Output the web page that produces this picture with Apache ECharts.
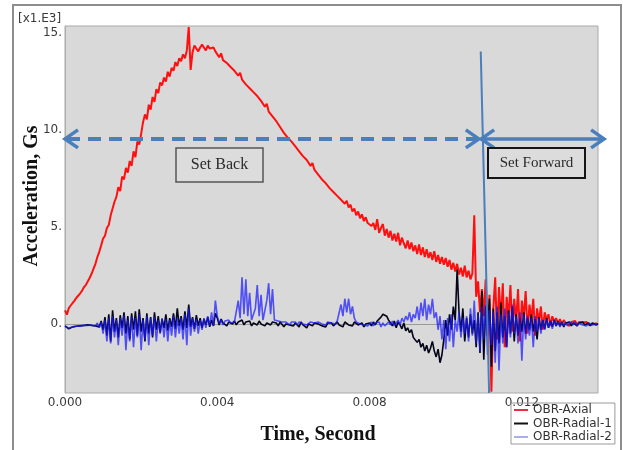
<!DOCTYPE html>
<html>
<head>
<meta charset="utf-8">
<script src="https://cdn.jsdelivr.net/npm/echarts@6/dist/echarts.min.js"></script>
<style>
  html, body { margin: 0; padding: 0; background: #fff; }
  #chart { width: 623px; height: 450px; }
</style>
</head>
<body>
<div id="chart"></div>
<script>
// sampling interval of the recorder traces, seconds
const sampleStep = 0.00005;

// acceleration in thousands of Gs, one row per millisecond
const axial = [
  0.70,0.48,0.82,0.95,1.08,1.20,1.35,1.45,1.58,1.72,1.90,2.02,2.20,2.38,2.60,2.85,3.10,3.45,3.72,4.05,
  4.40,4.55,4.95,5.10,5.60,5.95,6.30,6.55,7.05,6.85,7.60,7.45,8.05,7.80,8.40,8.15,8.90,8.60,9.40,9.25,
  9.80,10.40,10.80,10.55,11.30,11.05,11.70,11.45,12.10,11.90,12.45,12.30,12.70,12.50,13.00,12.75,13.20,13.05,13.50,13.30,
  13.70,13.55,13.90,13.70,14.10,15.30,13.10,14.00,14.35,14.20,14.05,14.25,14.40,14.30,14.10,14.35,14.20,14.15,14.25,14.05,
  14.00,13.75,13.95,13.60,13.70,13.45,13.50,13.25,13.35,13.05,13.10,12.80,12.95,12.60,12.70,12.35,12.45,12.15,12.20,11.95,
  12.05,11.75,11.80,11.50,11.55,11.20,11.35,10.95,11.05,10.70,10.80,10.45,10.55,10.15,10.25,9.85,9.95,9.60,9.65,9.40,
  9.45,9.15,9.20,8.90,8.95,8.65,8.75,8.45,8.50,8.15,8.30,7.95,8.00,7.70,7.80,7.45,7.55,7.25,7.30,7.00,
  7.10,6.80,6.90,6.60,6.70,6.40,6.50,6.20,6.35,6.00,6.15,5.80,5.95,5.60,5.80,5.45,5.65,5.30,5.50,5.20,
  5.30,5.05,5.20,4.85,5.40,4.70,4.95,5.15,4.55,4.90,4.45,4.80,4.30,4.65,4.25,4.70,4.05,4.45,4.15,3.90,
  4.30,3.85,4.20,3.75,4.05,3.60,4.10,3.55,3.95,3.45,3.85,3.40,3.70,3.30,3.75,3.20,3.55,3.10,3.45,3.05,
  3.40,2.95,3.30,2.80,3.15,2.70,3.10,2.55,2.90,2.45,3.00,2.40,2.75,2.30,2.60,5.60,1.40,2.20,0.60,1.80,
  0.40,2.30,-0.60,1.50,-3.50,0.80,2.40,-0.80,1.90,0.20,2.10,-1.20,1.40,0.30,2.00,-0.40,1.30,0.10,1.80,-0.90,
  1.20,0.30,1.70,-0.50,1.00,0.20,1.30,-0.60,0.80,0.10,0.90,-0.30,0.60,0.20,0.50,-0.10,0.40,0.10,0.30,0.00,
  0.25,-0.05,0.20,0.05,0.15,-0.10,0.10,0.05,0.15,-0.05,0.10,0.00,0.08,0.02,0.10,-0.05,0.05,0.00,0.05,0.02,
  0.00
];

const radial1 = [
  -0.10,-0.20,-0.25,-0.20,-0.15,-0.18,-0.12,-0.15,-0.10,-0.14,-0.08,-0.12,-0.05,-0.10,-0.08,-0.02,-0.10,0.00,-0.15,0.15,
  -0.30,0.35,-0.60,0.50,-0.90,0.70,-0.40,0.30,-0.70,0.45,-0.20,0.60,-0.50,0.40,-0.80,0.55,-0.30,0.65,-0.60,0.75,
  -0.40,0.30,-0.90,0.55,-0.50,0.35,-0.70,0.60,-0.30,0.40,-0.45,0.25,-0.20,0.50,-0.35,0.30,-0.15,0.55,-0.25,0.80,
  -0.10,0.40,-0.30,0.65,-0.20,1.00,-0.15,0.35,-0.25,0.45,-0.10,0.30,-0.20,0.25,-0.05,0.35,-0.15,0.20,-0.10,0.55,
  0.30,-0.05,0.25,0.05,0.15,-0.10,0.10,0.20,0.00,0.15,-0.05,0.10,0.05,0.20,-0.05,0.10,0.00,0.15,-0.10,0.05,
  0.10,-0.05,0.15,0.00,0.10,-0.10,0.05,0.15,-0.05,0.10,0.00,0.05,-0.10,0.10,0.05,-0.15,0.00,0.10,-0.05,0.05,
  -0.10,0.05,0.00,-0.15,0.10,-0.05,0.05,-0.20,0.00,0.10,-0.10,0.05,-0.05,0.00,0.10,-0.10,0.00,-0.15,0.05,-0.05,
  0.05,-0.10,0.00,0.10,-0.05,0.05,-0.15,0.10,0.00,-0.05,0.05,-0.10,0.10,0.00,-0.05,-0.10,0.05,-0.15,0.00,-0.05,
  0.05,-0.10,0.10,-0.05,0.15,0.25,0.35,0.50,0.60,0.40,0.20,0.05,-0.10,0.15,-0.20,0.10,-0.05,-0.25,0.05,-0.35,
  -0.20,-0.45,-0.30,-0.70,-0.60,-0.95,-0.80,-1.20,-1.00,-1.40,-1.10,-1.50,-1.25,-0.90,-1.40,-1.70,-1.30,-2.00,-1.60,-0.80,
  0.20,-0.60,0.50,-0.30,0.90,0.20,2.80,0.60,-0.40,0.80,-0.90,0.30,-0.70,0.50,-0.50,0.20,-1.20,0.60,-1.50,1.70,
  -1.85,0.90,-0.60,1.30,-2.20,0.80,-1.40,0.60,-1.00,1.10,-0.70,0.40,-1.20,0.70,-0.50,0.90,-0.90,0.50,-0.60,0.30,
  -0.40,0.60,-0.50,0.30,-0.30,0.50,-0.40,0.25,-0.80,0.35,-0.30,0.20,-0.25,0.30,-0.20,0.15,-0.15,0.20,-0.10,0.15,
  -0.10,0.10,-0.15,0.05,-0.05,0.10,-0.10,0.05,0.00,-0.10,0.05,-0.05,0.10,-0.05,0.00,0.05,-0.10,0.05,0.00,-0.05,
  0.00
];

const radial2 = [
  -0.12,-0.18,-0.22,-0.20,-0.15,-0.15,-0.12,-0.14,-0.10,-0.12,-0.06,-0.10,-0.08,-0.10,-0.05,-0.05,-0.12,0.05,-0.20,0.10,
  -0.50,0.20,-0.90,0.30,-1.00,0.40,-0.70,0.20,-1.10,0.30,-0.60,0.45,-1.35,0.20,-0.90,0.40,-1.20,0.30,-0.70,0.50,
  -1.35,0.20,-0.80,0.40,-1.10,0.30,-0.60,0.35,-0.90,0.20,-0.50,0.30,-0.70,0.25,-0.90,0.20,-0.60,0.40,-0.70,0.30,
  -0.50,0.30,-0.80,0.50,-1.10,0.80,-0.60,0.30,-0.40,0.25,-0.50,0.20,-0.30,0.30,-0.20,0.40,-0.10,0.60,-0.10,1.20,
  0.40,0.05,0.20,-0.05,0.15,0.10,0.20,0.05,0.15,0.10,0.20,1.20,0.30,2.40,0.50,2.30,0.40,1.60,0.20,0.10,
  0.80,2.00,0.40,1.50,0.20,0.30,1.20,2.10,0.50,1.80,0.20,0.10,0.15,0.05,0.10,0.00,0.10,0.05,-0.05,0.10,
  0.05,0.10,-0.05,0.10,0.05,0.00,0.10,-0.05,0.05,0.10,0.00,0.05,-0.05,0.10,0.05,0.00,0.05,-0.05,0.10,0.00,
  0.05,0.10,0.00,0.15,0.05,1.00,0.40,1.30,0.60,1.30,0.50,0.90,0.30,0.10,0.05,0.00,0.10,-0.05,0.05,-0.10,
  0.00,0.10,-0.10,0.05,-0.05,0.10,-0.15,0.05,-0.10,0.00,0.10,-0.05,0.15,-0.10,0.05,0.20,-0.05,0.30,0.10,0.40,
  0.20,0.60,0.10,0.50,0.30,0.90,0.20,1.10,0.40,1.30,0.20,1.00,0.50,1.30,0.30,0.60,-0.30,0.40,-0.80,0.20,
  -1.30,0.30,-0.90,0.50,-1.20,0.20,-0.40,0.60,-0.70,0.30,-0.50,0.40,-0.90,0.80,-0.60,1.20,-1.00,0.50,-1.40,0.90,
  -0.80,1.00,-1.60,0.70,-1.10,0.60,-2.00,0.90,-2.40,0.50,-1.00,0.80,-1.20,0.60,-0.70,1.00,-0.50,0.40,-1.00,0.60,
  -1.90,0.50,-0.80,0.40,-0.60,0.30,-1.20,0.40,-0.40,0.30,-0.50,0.20,-0.30,0.25,-0.20,0.15,-0.25,0.20,-0.10,0.10,
  -0.15,0.10,-0.10,0.05,-0.10,0.10,0.00,-0.05,0.10,-0.10,0.05,0.00,-0.05,0.05,-0.10,0.05,0.00,-0.05,0.05,0.00,
  0.00
];

const seriesNames = ['OBR-Axial', 'OBR-Radial-1', 'OBR-Radial-2'];
const xTicks = [0, 0.004, 0.008, 0.012];
const yTicks = [0, 5, 10, 15];

// annotation: launch phases (time in s, level in kGs)
const arrowLevel = 9.54;
const setBackSpan = [0, 0.01087];
const setForwardSpan = [0.01093, 0.01416];
const phaseBoundary = [[0.01092, 14.05], [0.01114, -3.56]];

const toPairs = (vals) => vals.map((v, i) => [+(i * sampleStep).toFixed(5), v]);

const chart = echarts.init(document.getElementById('chart'));
const labelFont = { fontFamily: 'DejaVu Sans', fontSize: 12, color: '#3a3a3a' };

chart.setOption({
  animation: false,
  backgroundColor: '#fff',
  grid: {
    left: 65, top: 26, width: 533, height: 367,
    show: true, backgroundColor: '#d9d9d9', borderColor: '#a9a9a9', borderWidth: 1,
  },
  legend: {
    data: seriesNames,
    orient: 'vertical',
    left: 511, top: 403,
    itemWidth: 14, itemHeight: 2, itemGap: 1.5,
    icon: 'rect',
    padding: [1, 3, 1, 3],
    borderColor: '#9a9a9a', borderWidth: 1,
    textStyle: { fontFamily: 'DejaVu Sans', fontSize: 12, color: '#333' },
  },
  xAxis: {
    type: 'value', min: 0, max: 0.014,
    axisLine: { show: true, lineStyle: { color: '#9a9a9a' } },
    axisTick: { show: false },
    splitLine: { show: false },
    axisLabel: { ...labelFont, margin: 4, customValues: xTicks, formatter: (v) => v.toFixed(3) },
  },
  yAxis: {
    type: 'value', min: -3.56, max: 15.36,
    axisLine: { show: true, lineStyle: { color: '#a8b0a8' } },
    axisTick: { show: false },
    splitLine: { show: false },
    axisLabel: { ...labelFont, margin: 3, customValues: yTicks, formatter: (v) => v + '.' },
  },
  series: [
    { name: seriesNames[0], type: 'line', data: toPairs(axial), showSymbol: false, z: 2,
      color: '#e8303a', lineStyle: { color: '#ff1010', width: 2 } },
    { name: seriesNames[1], type: 'line', data: toPairs(radial1), showSymbol: false, z: 3,
      color: '#111', lineStyle: { color: '#05051a', width: 1.6 } },
    { name: seriesNames[2], type: 'line', data: toPairs(radial2), showSymbol: false, z: 4,
      color: '#a8aef0', lineStyle: { color: 'rgba(25,25,255,0.72)', width: 1.6 } },
  ],
});

const px = (x, y) => chart.convertToPixel({ gridIndex: 0 }, [x, y]);
const arrowBlue = '#4a7ebd';
const a0 = px(setBackSpan[0], arrowLevel);
const a1 = px(setBackSpan[1], arrowLevel);
const f0 = px(setForwardSpan[0], arrowLevel);
const f1 = px(setForwardSpan[1], arrowLevel);
const b0 = px(phaseBoundary[0][0], phaseBoundary[0][1]);
const b1 = px(phaseBoundary[1][0], phaseBoundary[1][1]);

function head(x, y, dir) {
  return {
    type: 'polyline', z: 20,
    shape: { points: [[x - dir * 13, y - 9], [x, y], [x - dir * 13, y + 9]] },
    style: { stroke: arrowBlue, lineWidth: 3.5, fill: null, lineJoin: 'miter' },
  };
}

const serif = 'Liberation Serif';

chart.setOption({
  graphic: [
    // outer frame
    { type: 'rect', z: 0, shape: { x: 13, y: 5, width: 608, height: 460 },
      style: { stroke: '#8d8d8d', lineWidth: 2, fill: null } },
    { type: 'text', left: 18, top: 13,
      style: { text: '[x1.E3]', font: '12px "DejaVu Sans"', fill: '#3a3a3a' } },
    { type: 'text', x: 32, y: 196, rotation: Math.PI / 2,
      style: { text: 'Acceleration, Gs', font: 'bold 20px "' + serif + '"', fill: '#111',
        align: 'center', verticalAlign: 'middle' } },
    { type: 'text', x: 318, y: 435,
      style: { text: 'Time, Second', font: 'bold 20px "' + serif + '"', fill: '#111',
        align: 'center', verticalAlign: 'middle' } },
    // phase boundary
    { type: 'line', z: 18, shape: { x1: b0[0], y1: b0[1], x2: b1[0], y2: b1[1] },
      style: { stroke: arrowBlue, lineWidth: 2 } },
    // set back arrow (dashed)
    { type: 'line', z: 20, shape: { x1: a0[0] + 2, y1: a0[1], x2: a1[0] - 2, y2: a1[1] },
      style: { stroke: arrowBlue, lineWidth: 4, lineDash: [13, 8] } },
    head(a0[0], a0[1], -1), head(a1[0], a1[1], 1),
    // set forward arrow (solid)
    { type: 'line', z: 20, shape: { x1: f0[0] + 2, y1: f0[1], x2: f1[0] - 2, y2: f1[1] },
      style: { stroke: arrowBlue, lineWidth: 3.5 } },
    head(f0[0], f0[1], -1), head(f1[0], f1[1], 1),
    // labels
    { type: 'rect', z: 21, shape: { x: 176, y: 148, width: 87, height: 34 },
      style: { stroke: '#555', lineWidth: 1.5, fill: '#dcdcdc' } },
    { type: 'text', z: 22, x: 219.5, y: 165,
      style: { text: 'Set Back', font: '16px "' + serif + '"', fill: '#2a2a2a', align: 'center', verticalAlign: 'middle' } },
    { type: 'rect', z: 21, shape: { x: 488, y: 148, width: 97, height: 30 },
      style: { stroke: '#151515', lineWidth: 2, fill: '#dcdcdc' } },
    { type: 'text', z: 22, x: 536.5, y: 163,
      style: { text: 'Set Forward', font: '15px "' + serif + '"', fill: '#2a2a2a', align: 'center', verticalAlign: 'middle' } },
  ],
});
</script>
</body>
</html>
